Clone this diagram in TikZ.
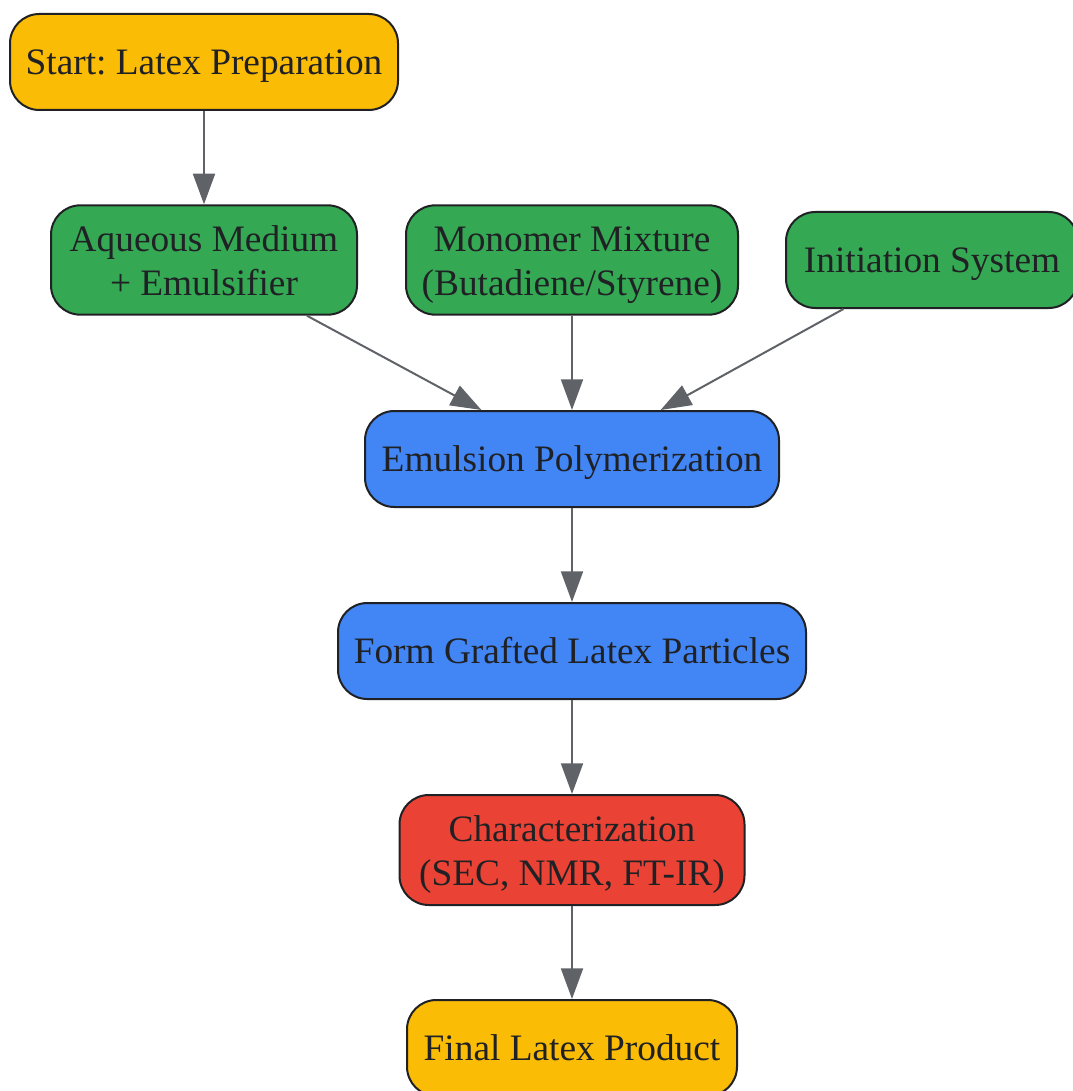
\documentclass[tikz,border=0pt]{standalone}
\usepackage{fontspec}
\setmainfont{Liberation Serif}
\usetikzlibrary{arrows.meta}
\frenchspacing

\definecolor{prepyellow}{HTML}{FBBC05}
\definecolor{feedgreen}{HTML}{34A853}
\definecolor{reactblue}{HTML}{4285F4}
\definecolor{testred}{HTML}{EA4335}
\definecolor{edgegray}{HTML}{5F6368}
\definecolor{inkgray}{HTML}{202124}

\tikzset{
    stepbox/.style={draw=inkgray,line width=1.5pt,rounded corners=22pt,
        text=inkgray,align=center,inner sep=0pt,minimum height=72pt,
        text height=22pt,text depth=3pt,
        font=\fontsize{28pt}{32.5pt}\selectfont},
    twoline/.style={minimum height=82pt,text height=55.5pt,text depth=3pt},
    flow/.style={draw=edgegray,line width=1.5pt,
        -{Triangle[length=23pt,width=16.5pt]}},
}

\begin{document}
\begin{tikzpicture}[x=0.75pt,y=-0.75pt]
    \useasboundingbox (0,0) rectangle (1072,1091);

    % preparation
    \node [stepbox,fill=prepyellow,minimum width=291pt] (start) at (204,62)
        {Start: Latex Preparation};

    % feeds
    \node [stepbox,twoline,fill=feedgreen,minimum width=229.5pt] (aqueous) at (204,260)
        {Aqueous Medium\\+ Emulsifier};
    \node [stepbox,twoline,fill=feedgreen,minimum width=249pt] (monomer) at (572,260)
        {Monomer Mixture\\(Butadiene/Styrene)};
    \node [stepbox,fill=feedgreen,minimum width=219pt] (initiation) at (932,260)
        {Initiation System};

    % reaction
    \node [stepbox,fill=reactblue,minimum width=310.5pt] (emulsion) at (572,459)
        {Emulsion Polymerization};
    \node [stepbox,fill=reactblue,minimum width=351pt] (particles) at (572,651)
        {Form Grafted Latex Particles};

    % testing and product
    \node [stepbox,twoline,fill=testred,minimum width=258.75pt,minimum height=82.5pt] (character) at (572,850)
        {Characterization\\(SEC, NMR, FT-IR)};
    \node [stepbox,fill=prepyellow,minimum width=247.5pt] (final) at (572,1048)
        {Final Latex Product};

    \draw [flow] (start) -- (aqueous);
    \draw [flow] (aqueous) -- (emulsion);
    \draw [flow] (monomer) -- (emulsion);
    \draw [flow] (initiation) -- (emulsion);
    \draw [flow] (emulsion) -- (particles);
    \draw [flow] (particles) -- (character);
    \draw [flow] (character) -- (final);
\end{tikzpicture}
\end{document}
